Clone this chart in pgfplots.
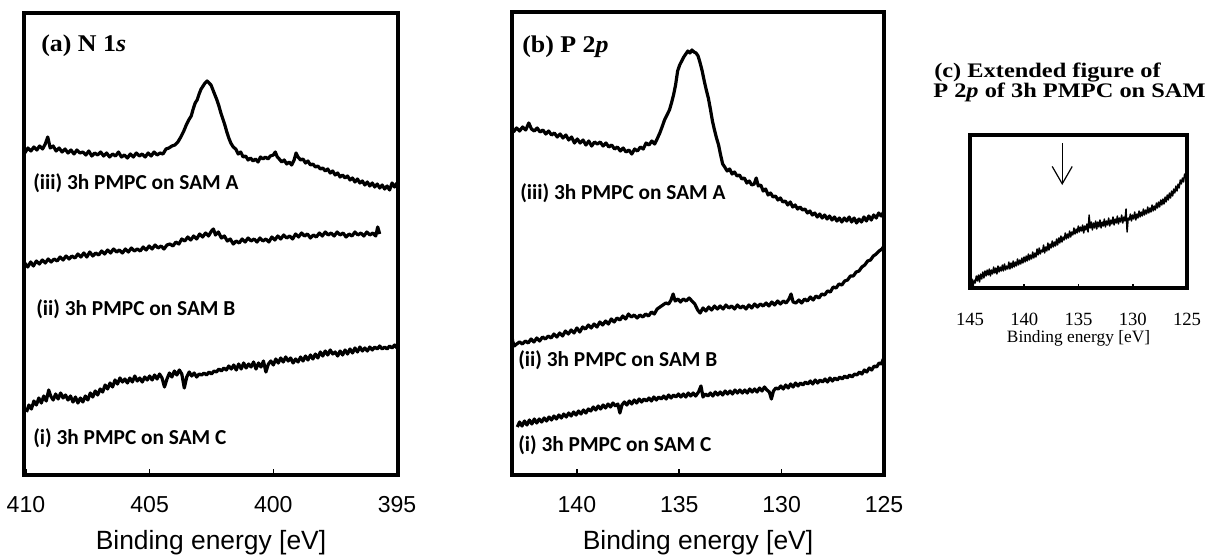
\documentclass[border=0pt]{standalone}
\usepackage{fontspec}
\setmainfont{Liberation Sans}
\newfontfamily\carl{Carlito}
\newfontfamily\tms{Liberation Serif}
\usepackage{graphicx}
\usepackage{pgfplots}
\pgfplotsset{compat=1.18}
\usetikzlibrary{arrows.meta}

\pgfplotsset{
  spec/.style={
    scale only axis,
    axis line style={line width=2.4pt},
    ytick=\empty,
    xtick pos=bottom,
    tick align=inside,
    major tick length=4.5pt,
    tick style={line width=1.2pt, black},
    x dir=reverse,
    ymin=0,
    /pgf/number format/assume math mode=true,
  },
  abstyle/.style={
    xticklabel style={font=\fontsize{17.3}{20}\selectfont, anchor=center, yshift=-22.5pt},
    xlabel style={font=\fontsize{19.8}{23}\selectfont, at={(axis description cs:0.5,0)}, anchor=center, yshift=-51pt},
  },
  crv/.style={black, line width=2.4pt, no markers, line join=round},
  crvthin/.style={black, line width=1.1pt, no markers, line join=round},
}

\pgfplotstableread{
x y
410.05 322
409.92 327
409.80 324
409.68 328
409.56 325
409.45 329
409.33 326
409.22 331
409.12 338
409.02 327
408.90 329
408.78 324
408.66 327
408.54 323
408.42 326
408.30 322
408.18 325
408.06 321
407.94 325
407.82 322
407.70 323
407.58 320
407.46 324
407.34 319
407.22 322
407.10 320
406.98 323
406.86 319
406.74 322
406.62 318
406.50 321
406.38 319
406.26 323
406.14 318
406.02 320
405.90 317
405.78 321
405.66 318
405.54 322
405.42 319
405.30 321
405.18 318
405.06 322
404.94 319
404.82 323
404.70 320
404.58 322
404.46 321
404.34 326
404.22 327
404.10 329
403.98 330
403.86 333
403.74 338
403.62 344
403.52 350
403.42 355
403.32 359
403.24 366
403.16 372
403.08 375
403.00 381
402.92 386
402.84 389
402.76 392
402.68 394
402.60 392
402.52 390
402.44 385
402.36 380
402.28 375
402.20 369
402.12 362
402.04 356
401.96 350
401.88 343
401.80 337
401.72 332
401.62 328
401.52 326
401.42 321
401.32 323
401.22 318
401.12 319
401.02 315
400.92 317
400.82 314
400.72 316
400.62 313
400.52 318
400.42 316
400.32 318
400.22 316
400.12 319
400.00 320
399.92 323
399.84 318
399.76 316
399.66 313
399.56 315
399.46 311
399.36 313
399.26 310
399.16 315
399.08 322
399.00 318
398.90 315
398.80 316
398.70 312
398.60 314
398.50 310
398.40 311
398.30 308
398.20 309
398.10 306
398.00 307
397.90 304
397.80 306
397.70 302
397.60 304
397.50 300
397.40 302
397.30 298
397.20 300
397.10 297
397.00 299
396.90 295
396.80 297
396.70 293
396.60 296
396.50 292
396.40 294
396.30 290
396.20 293
396.10 289
396.00 292
395.90 288
395.80 291
395.70 287
395.60 290
395.50 286
395.40 289
395.30 285
395.20 292
395.10 288
395.00 292
}\aA

\pgfplotstableread{
x y
410.05 212
409.93 208
409.81 213
409.70 209
409.58 214
409.46 211
409.34 215
409.22 212
409.10 216
408.98 213
408.86 216
408.74 214
408.62 218
408.50 215
408.38 219
408.26 216
408.14 219
408.02 217
407.90 221
407.78 218
407.66 222
407.54 218
407.42 223
407.30 219
407.18 222
407.06 220
406.94 224
406.82 221
406.70 225
406.58 222
406.46 226
406.34 223
406.22 225
406.10 222
405.98 226
405.86 223
405.74 227
405.62 224
405.50 226
405.38 224
405.26 228
405.14 225
405.02 229
404.90 226
404.78 230
404.66 227
404.54 229
404.42 226
404.30 230
404.18 231
404.06 229
403.94 233
403.82 231
403.70 236
403.58 234
403.46 238
403.34 235
403.22 239
403.10 236
402.98 241
402.86 238
402.74 242
402.62 239
402.50 244
402.42 246
402.34 240
402.22 243
402.10 237
401.98 239
401.86 234
401.74 236
401.62 231
401.50 234
401.38 232
401.26 236
401.14 233
401.02 237
400.90 234
400.78 236
400.66 233
400.54 237
400.42 234
400.30 236
400.18 233
400.06 238
399.94 235
399.82 239
399.70 236
399.58 240
399.46 237
399.34 239
399.22 236
399.10 241
398.98 238
398.86 242
398.74 239
398.62 241
398.50 237
398.38 240
398.26 238
398.14 242
398.02 239
397.90 243
397.78 240
397.66 242
397.54 239
397.42 243
397.30 240
397.18 242
397.06 238
396.94 241
396.82 239
396.70 243
396.58 240
396.46 242
396.34 239
396.22 243
396.10 240
395.98 242
395.86 239
395.78 248
395.70 241
}\aB

\pgfplotstableread{
x y
409.98 63
409.88 70
409.78 66
409.68 74
409.58 70
409.48 77
409.38 72
409.28 79
409.18 74
409.08 85
409.00 79
408.90 75
408.80 81
408.70 76
408.60 82
408.50 77
408.40 80
408.30 75
408.20 79
408.10 73
408.00 78
407.90 72
407.80 77
407.70 73
407.60 79
407.50 75
407.40 82
407.30 78
407.20 84
407.10 80
407.00 86
406.90 83
406.80 90
406.70 86
406.60 92
406.50 88
406.40 95
406.30 91
406.20 97
406.10 93
406.00 96
405.90 92
405.80 97
405.70 93
405.60 99
405.50 94
405.40 97
405.30 93
405.20 98
405.10 95
405.00 99
404.90 95
404.80 100
404.70 96
404.60 101
404.50 97
404.40 88
404.30 96
404.20 102
404.10 98
404.00 104
403.90 100
403.80 105
403.70 101
403.60 87
403.50 98
403.40 103
403.30 99
403.20 102
403.10 98
403.00 101
402.90 100
402.80 102
402.70 100
402.60 103
402.50 101
402.40 104
402.30 103
402.20 106
402.10 104
402.00 107
401.90 105
401.80 109
401.70 106
401.60 110
401.50 105
401.40 111
401.30 106
401.20 112
401.10 107
401.00 111
400.90 108
400.80 113
400.70 106
400.60 112
400.50 108
400.40 114
400.30 103
400.20 111
400.10 114
400.00 110
399.90 116
399.80 112
399.70 117
399.60 113
399.50 118
399.40 114
399.30 117
399.20 112
399.10 116
399.00 113
398.90 118
398.80 114
398.70 119
398.60 115
398.50 120
398.40 116
398.30 121
398.20 117
398.10 123
398.00 119
397.90 124
397.80 120
397.70 125
397.60 121
397.50 123
397.40 119
397.30 124
397.20 120
397.10 125
397.00 121
396.90 126
396.80 122
396.70 127
396.60 123
396.50 128
396.40 124
396.30 127
396.20 124
396.10 128
396.00 125
395.90 128
395.80 126
395.70 129
395.60 126
395.50 128
395.40 126
395.30 129
395.20 127
395.10 130
395.00 127
}\aC

\pgfplotstableread{
x y
143.10 343
142.95 347
142.80 344
142.65 348
142.50 345
142.35 352
142.22 346
142.08 344
141.94 347
141.80 343
141.66 345
141.52 341
141.38 344
141.24 340
141.10 342
140.96 338
140.82 341
140.68 337
140.54 340
140.40 335
140.26 338
140.12 332
139.98 336
139.84 332
139.70 335
139.56 330
139.42 334
139.28 329
139.14 333
139.00 331
138.86 333
138.72 329
138.58 332
138.44 328
138.30 330
138.16 326
138.02 328
137.88 324
137.74 327
137.60 323
137.46 325
137.32 321
137.18 326
137.04 324
136.90 328
136.76 326
136.62 332
136.48 330
136.34 334
136.20 331
136.06 337
135.95 342
135.84 348
135.72 355
135.60 360
135.48 365
135.38 372
135.28 380
135.18 390
135.08 404
134.98 410
134.88 414
134.78 418
134.68 421
134.58 424
134.48 422
134.38 425
134.28 423
134.18 422
134.08 419
133.98 412
133.88 404
133.78 394
133.68 385
133.58 377
133.48 366
133.38 354
133.28 345
133.18 337
133.08 330
132.98 320
132.88 311
132.78 308
132.66 304
132.54 306
132.42 301
132.30 303
132.18 299
132.06 300
131.94 296
131.82 297
131.70 292
131.58 294
131.46 290
131.34 291
131.24 297
131.14 289
131.02 290
130.90 284
130.78 286
130.66 280
130.54 282
130.42 278
130.30 279
130.18 275
130.06 277
129.94 273
129.82 274
129.70 270
129.58 273
129.46 268
129.34 270
129.22 266
129.10 268
128.98 265
128.86 266
128.74 262
128.62 264
128.50 260
128.38 262
128.26 258
128.14 261
128.02 257
127.90 260
127.78 256
127.66 259
127.54 255
127.42 258
127.30 254
127.18 257
127.06 253
126.94 257
126.82 254
126.70 258
126.58 253
126.46 257
126.34 252
126.22 256
126.10 253
125.98 258
125.86 254
125.74 259
125.62 255
125.50 260
125.38 257
125.26 262
125.14 259
125.02 263
}\bA

\pgfplotstableread{
x y
143.18 142
143.14 134
143.06 129
142.94 131
142.80 133
142.66 131
142.52 134
142.38 132
142.24 136
142.10 133
141.96 137
141.82 134
141.68 138
141.54 136
141.40 139
141.26 137
141.12 141
140.98 138
140.84 142
140.70 139
140.56 144
140.42 141
140.28 145
140.14 142
140.00 147
139.86 143
139.72 148
139.58 146
139.44 150
139.30 147
139.16 151
139.02 148
138.88 153
138.74 150
138.60 154
138.46 151
138.32 156
138.18 153
138.04 157
137.90 155
137.76 159
137.62 156
137.48 161
137.34 158
137.20 160
137.06 157
136.92 160
136.78 158
136.64 161
136.50 159
136.36 163
136.22 161
136.08 166
135.94 168
135.80 170
135.66 172
135.52 171
135.40 175
135.30 181
135.20 174
135.06 176
134.94 173
134.80 176
134.66 174
134.52 177
134.38 174
134.24 171
134.10 165
133.98 162
133.84 167
133.70 164
133.56 168
133.42 165
133.28 169
133.14 166
133.00 169
132.86 166
132.72 170
132.58 167
132.44 169
132.30 166
132.16 170
132.02 167
131.88 169
131.74 166
131.60 170
131.46 167
131.32 171
131.18 168
131.04 171
130.90 169
130.76 172
130.62 169
130.48 173
130.34 170
130.20 174
130.06 171
129.92 174
129.78 172
129.64 176
129.54 181
129.44 173
129.30 172
129.16 175
129.02 172
128.88 176
128.74 174
128.60 178
128.46 175
128.32 179
128.18 177
128.04 181
127.90 180
127.76 184
127.62 183
127.48 188
127.34 187
127.20 191
127.06 190
126.92 194
126.78 195
126.64 199
126.50 199
126.36 203
126.22 204
126.08 208
125.94 210
125.80 214
125.66 215
125.52 219
125.38 221
125.24 224
125.10 226
125.00 229
}\bB

\pgfplotstableread{
x y
142.91 48
142.80 53
142.68 49
142.56 54
142.44 50
142.32 55
142.20 51
142.08 56
141.96 52
141.84 56
141.72 53
141.60 57
141.48 54
141.36 58
141.24 55
141.12 59
141.00 56
140.88 60
140.76 57
140.64 61
140.52 58
140.40 62
140.28 59
140.16 63
140.04 60
139.92 64
139.80 61
139.68 65
139.56 62
139.44 66
139.32 64
139.20 68
139.08 65
138.96 69
138.84 66
138.72 70
138.60 67
138.48 71
138.36 68
138.24 72
138.12 69
138.00 71
137.90 62
137.80 70
137.68 73
137.56 70
137.44 74
137.32 71
137.20 75
137.08 72
136.96 76
136.84 73
136.72 76
136.60 74
136.48 77
136.36 74
136.24 78
136.12 75
136.00 78
135.88 76
135.76 79
135.64 76
135.52 80
135.40 77
135.28 80
135.16 78
135.04 81
134.92 78
134.80 81
134.68 78
134.56 82
134.44 79
134.32 82
134.20 79
134.06 83
133.94 89
133.84 78
133.72 81
133.60 79
133.48 82
133.36 79
133.24 83
133.12 80
133.00 83
132.88 80
132.76 84
132.64 81
132.52 84
132.40 81
132.28 85
132.16 82
132.04 85
131.92 82
131.80 85
131.68 82
131.56 86
131.44 83
131.32 86
131.20 83
131.08 87
130.96 84
130.84 88
130.72 85
130.60 83
130.50 76
130.40 84
130.28 87
130.16 86
130.04 89
129.92 86
129.80 90
129.68 87
129.56 91
129.44 88
129.32 92
129.20 89
129.08 92
128.96 90
128.84 93
128.72 91
128.60 94
128.48 91
128.36 95
128.24 92
128.12 95
128.00 93
127.88 96
127.76 93
127.64 97
127.52 94
127.40 97
127.28 95
127.16 98
127.04 96
126.92 99
126.80 97
126.68 100
126.56 98
126.44 101
126.32 100
126.20 103
126.08 101
125.96 105
125.84 103
125.72 107
125.60 105
125.48 109
125.36 108
125.24 112
125.12 111
125.04 116
}\bC

\pgfplotstableread{
x y
144.92 3
144.82 9
144.72 1
144.62 8
144.52 5
144.42 12
144.32 7
144.22 13
144.12 6
144.02 14
143.92 9
143.82 16
143.72 10
143.62 17
143.52 12
143.42 18
143.32 13
143.22 19
143.12 12
143.02 18
142.92 14
142.82 21
142.72 15
142.62 20
142.52 14
142.42 22
142.32 16
142.22 21
142.12 17
142.02 23
141.92 17
141.82 24
141.72 18
141.62 22
141.52 19
141.42 26
141.32 19
141.22 25
141.12 20
141.02 27
140.92 21
140.82 26
140.72 22
140.62 29
140.52 23
140.42 28
140.32 24
140.22 30
140.12 25
140.02 31
139.92 26
139.82 32
139.72 27
139.62 34
139.52 28
139.42 33
139.32 29
139.22 36
139.12 30
139.02 35
138.92 31
138.82 39
138.72 33
138.62 40
138.52 34
138.42 38
138.32 36
138.22 43
138.12 35
138.02 41
137.92 37
137.82 45
137.72 38
137.62 44
137.52 40
137.42 47
137.32 41
137.22 46
137.12 42
137.02 49
136.92 43
136.82 50
136.72 45
136.62 52
136.52 46
136.42 51
136.32 48
136.22 55
136.12 49
136.02 54
135.92 50
135.82 57
135.72 51
135.62 56
135.52 53
135.42 60
135.32 54
135.22 59
135.12 55
135.02 62
134.92 56
134.82 61
134.72 57
134.62 63
134.52 55
134.42 62
134.32 58
134.22 64
134.12 56
134.02 73
133.92 60
133.82 66
133.72 58
133.62 65
133.52 60
133.42 67
133.32 59
133.22 66
133.12 61
133.02 68
132.92 60
132.82 66
132.72 62
132.62 69
132.52 61
132.42 67
132.32 63
132.22 70
132.12 62
132.02 68
131.92 64
131.82 71
131.72 63
131.62 69
131.52 65
131.42 72
131.32 64
131.22 70
131.12 66
131.02 73
130.92 65
130.82 71
130.72 67
130.62 79
130.52 56
130.42 70
130.32 68
130.22 74
130.12 67
130.02 73
129.92 69
129.82 76
129.72 68
129.62 74
129.52 70
129.42 77
129.32 71
129.22 76
129.12 72
129.02 79
128.92 73
128.82 78
128.72 74
128.62 81
128.52 75
128.42 80
128.32 76
128.22 83
128.12 77
128.02 82
127.92 78
127.82 85
127.72 80
127.62 86
127.52 81
127.42 88
127.32 83
127.22 89
127.12 84
127.02 91
126.92 86
126.82 93
126.72 88
126.62 95
126.52 90
126.42 97
126.32 92
126.22 99
126.12 95
126.02 102
125.92 97
125.82 104
125.72 100
125.62 108
125.52 104
125.42 110
125.32 106
125.22 114
125.12 112
125.04 122
125.00 118
}\cA

\begin{document}
\begin{tikzpicture}
\path[use as bounding box] (0,0) rectangle (906pt,418.5pt);

% (a) N 1s
\begin{axis}[spec, abstyle,
  at={(18pt,62.25pt)}, anchor=south west,
  width=280.5pt, height=346.5pt,
  xmin=394.96, xmax=410.08, ymax=462,
  xtick={395,400,405,410},
  xlabel={Binding energy [eV]},
]
\addplot[crv] table[x=x,y=y] {\aA};
\addplot[crv] table[x=x,y=y] {\aB};
\addplot[crv] table[x=x,y=y] {\aC};
\end{axis}

% (b) P 2p
\begin{axis}[spec, abstyle,
  at={(384pt,62.25pt)}, anchor=south west,
  width=279pt, height=347.25pt,
  xmin=125, xmax=143.17, ymax=463,
  xtick={125,130,135,140},
  xlabel={Binding energy [eV]},
]
\addplot[crv] table[x=x,y=y] {\bA};
\addplot[crv] table[x=x,y=y] {\bB};
\addplot[crv] table[x=x,y=y] {\bC};
\end{axis}

% (c) extended
\begin{axis}[spec,
  at={(727.5pt,202.5pt)}, anchor=south west,
  width=162.75pt, height=114.75pt,
  xmin=125, xmax=145, ymax=153,
  xtick={125,130,135,140,145},
  major tick length=3pt,
  xticklabel style={font=\tms\fontsize{14}{16}\selectfont, anchor=center, yshift=-23.25pt},
  xlabel style={font=\tms\fontsize{13}{15}\selectfont, at={(axis description cs:0.5,0)}, anchor=center, yshift=-37.5pt},
  xlabel={Binding energy [eV]},
]
\addplot[crvthin] table[x=x,y=y] {\cA};
\draw[line width=0.9pt, -{Straight Barb[length=13pt,width=15pt]}] (axis cs:136.5,145) -- (axis cs:136.5,103);
\end{axis}

\begin{scope}[x=0.75pt, y=-0.75pt, shift={(0pt,418.5pt)}]
  \node[anchor=west, inner sep=0pt] at (41,46) {\scalebox{1.08}[1]{\tms\bfseries\fontsize{18}{21}\selectfont (a) N 1\textit{s}}};
  \node[anchor=west, inner sep=0pt] at (522,47) {\scalebox{1.08}[1]{\tms\bfseries\fontsize{18}{21}\selectfont (b) P 2\textit{p}}};
  \node[anchor=west, inner sep=0pt] at (934,73) {\scalebox{1.18}[1]{\tms\bfseries\fontsize{15.5}{17}\selectfont (c) Extended figure of}};
  \node[anchor=west, inner sep=0pt] at (933,92) {\scalebox{1.18}[1]{\tms\bfseries\fontsize{15.5}{17}\selectfont P 2\textit{p} of 3h PMPC on SAM}};
  \node[anchor=west, inner sep=0pt] at (33,183) {\carl\bfseries\fontsize{16}{19}\selectfont (iii) 3h PMPC on SAM A};
  \node[anchor=west, inner sep=0pt] at (36,309) {\carl\bfseries\fontsize{16}{19}\selectfont (ii) 3h PMPC on SAM B};
  \node[anchor=west, inner sep=0pt] at (33,438) {\carl\bfseries\fontsize{16}{19}\selectfont (i) 3h PMPC on SAM C};
  \node[anchor=west, inner sep=0pt] at (520,193) {\carl\bfseries\fontsize{16}{19}\selectfont (iii) 3h PMPC on SAM A};
  \node[anchor=west, inner sep=0pt] at (518,360) {\carl\bfseries\fontsize{16}{19}\selectfont (ii) 3h PMPC on SAM B};
  \node[anchor=west, inner sep=0pt] at (518,445) {\carl\bfseries\fontsize{16}{19}\selectfont (i) 3h PMPC on SAM C};
\end{scope}
\end{tikzpicture}
\end{document}
